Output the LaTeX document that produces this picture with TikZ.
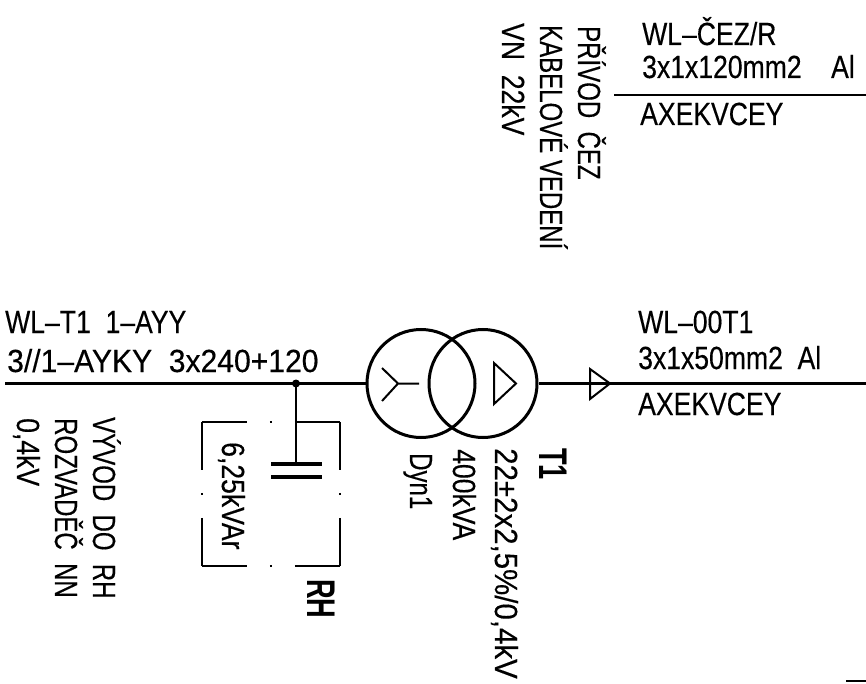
\documentclass[tikz,border=0pt]{standalone}
\usepackage{fontspec}
\setmainfont{Liberation Sans}
\newfontfamily\normface[FakeStretch=0.83,FakeBold=0.3]{Liberation Sans}
\newfontfamily\wideface[FakeStretch=0.94,FakeBold=0.3]{Liberation Sans}
\newfontfamily\downface[FakeStretch=0.75,FakeBold=0.3]{Liberation Sans}
\newfontfamily\ratioface[FakeStretch=0.92,FakeBold=0.3]{Liberation Sans}
\newfontfamily\boldface[FakeStretch=0.68]{Liberation Sans Bold}
\usepackage{tikz}
\usetikzlibrary{arrows, shapes, positioning}

\tikzset{
	label text/.style = {inner sep=0pt, font=\fontsize{32}{32}\normface, anchor=base west},
	wide text/.style = {label text, font=\fontsize{32}{32}\wideface},
	down text/.style = {label text, rotate=-90, font=\fontsize{32}{32}\downface},
	down norm/.style = {label text, rotate=-90},
	ratio text/.style = {down text, font=\fontsize{32}{32}\ratioface},
	bold text/.style = {down text, font=\fontsize{40}{40}\boldface},
	cable/.style = {line width=2.5pt},
	coil/.style = {draw, circle, line width=3pt, minimum size=108pt, inner sep=0pt},
	winding/.style = {line width=2pt},
	rh dash/.style = {line width=1.5pt, dash pattern=on 45pt off 23pt on 2pt off 23pt},
	rh side/.style = {line width=1.5pt, dash pattern=on 48pt off 23pt on 2pt off 23pt},
	plate/.style = {line width=3.5pt}
}

\begin{document}
\begin{tikzpicture}[x=1pt, y=-1pt]
	\useasboundingbox (0,0) rectangle (866,684);
	% transformer
	\node [coil] (CoilL) at (421,383.5) {};
	\node [coil] (CoilR) at (483,383.5) {};
	\coordinate (Left) at (5,383.5);
	\coordinate (Right) at (866,383.5);
	\coordinate (Junction) at (296,383.5);
	\draw [cable] (Left) -- (CoilL);
	\draw [cable] (CoilR) -- (Right);
	% star and delta
	\coordinate (StarC) at (398,383.5);
	\draw [winding] (419,383.5) -- (StarC) -- (382,368) (StarC) -- (382,401);
	\draw [winding] (494,363) -- (494,404) -- (516,383.5) -- cycle;
	\draw [winding] (590,369) -- (590,399) -- (610,383.5) -- cycle;
	% capacitor
	\fill (Junction) circle (4pt);
	\coordinate (PlateA) at (296,464);
	\draw [cable] (Junction) -- (PlateA);
	\draw [plate] (271,464) -- (322,464);
	\draw [plate] (271,477) -- (322,477);
	\node [draw=none, minimum width=138pt, minimum height=144pt, inner sep=0pt] (RHbox) at (271,494) {};
	\draw [rh dash] (RHbox.north west) -- (RHbox.north east);
	\draw [rh dash] (RHbox.south west) -- (RHbox.south east);
	\draw [rh side] (RHbox.north west) -- (RHbox.south west);
	\draw [rh side] (RHbox.north east) -- (RHbox.south east);
	% top feeder
	\coordinate (TopA) at (614,95);
	\coordinate (TopB) at (866,95);
	\draw [cable] (TopA) -- (TopB);
	\coordinate (CornerA) at (846,681);
	\coordinate (CornerB) at (866,681);
	\draw [cable] (CornerA) -- (CornerB);
	% texts
	\node [label text] (WLCez) at (642,45) {WL–ČEZ/R};
	\node [label text] (CezCable) at (642,78) {3x1x120mm2~~~~Al};
	\node [label text] (CezType) at (640,125) {AXEKVCEY};
	\node [label text] (WLOut) at (638,333) {WL–00T1};
	\node [label text] (OutCable) at (638,369) {3x1x50mm2~~Al};
	\node [label text] (OutType) at (638,415) {AXEKVCEY};
	\node [label text] (WLT) at (5,333) {WL–T1~~1–AYY};
	\node [wide text] (AYKY) at (7,372) {3//1–AYKY~~3x240+120};
	\node [down text] (PrivodA) at (578,26) {PŘÍVOD~~ČEZ};
	\node [down text] (PrivodB) at (540,25) {KABELOVÉ~VEDENÍ};
	\node [down norm] (PrivodC) at (502,23) {VN~~22kV};
	\node [down text] (VyvodA) at (93,417) {VÝVOD~~DO~~RH};
	\node [down text] (VyvodB) at (55,418) {ROZVADĚČ~~NN};
	\node [down norm] (VyvodC) at (17,418) {0,4kV};
	\node [down norm] (Kvar) at (222,442) {6,25kVAr};
	\node [down text] (Dyn) at (410,453) {Dyn1};
	\node [down norm] (Power) at (453,449) {400kVA};
	\node [ratio text] (Ratio) at (495,448) {22±2x2,5\%/0,4kV};
	\node [bold text] (Trafo) at (539,448) {T1};
	\node [bold text] (RH) at (307,579) {RH};
\end{tikzpicture}
\end{document}
